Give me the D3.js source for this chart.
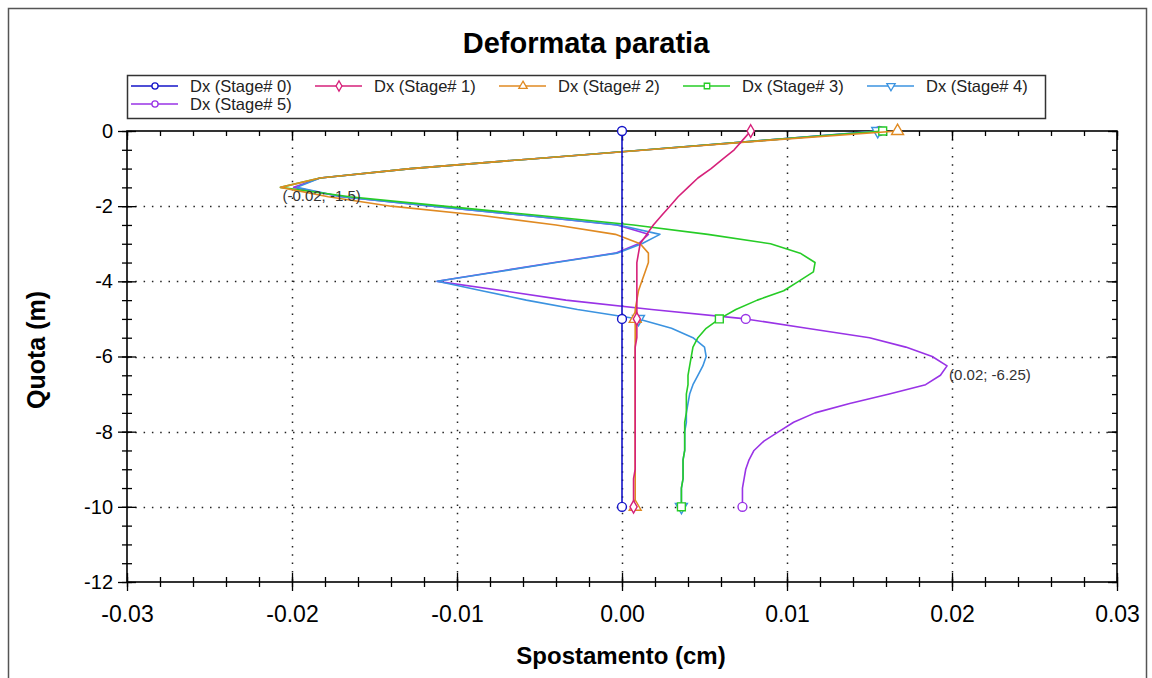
<!DOCTYPE html>
<html>
<head>
<meta charset="utf-8">
<script src="https://cdn.jsdelivr.net/npm/d3@7"></script>
<style>
  body { margin: 0; background: #fff; }
  text { font-family: Arial, "Liberation Sans", sans-serif; }
</style>
</head>
<body>
<svg id="chart" width="1152" height="678"></svg>
<script>
(function() {
  'use strict';

// depth of each reading (m), one value every 0.25 m
var depth = [0, -0.25, -0.5, -0.75, -1, -1.25, -1.5, -1.75, -2, -2.25,
  -2.5, -2.75, -3, -3.25, -3.5, -3.75, -4, -4.25, -4.5, -4.75,
  -5, -5.25, -5.5, -5.75, -6, -6.25, -6.5, -6.75, -7, -7.25,
  -7.5, -7.75, -8, -8.25, -8.5, -8.75, -9, -9.25, -9.5, -9.75,
  -10];

// displacement Dx (cm) per stage
var stage0 = [0, 0, 0, 0, 0, 0, 0, 0, 0, 0,
  0, 0, 0, 0, 0, 0, 0, 0, 0, 0,
  0, 0, 0, 0, 0, 0, 0, 0, 0, 0,
  0, 0, 0, 0, 0, 0, 0, 0, 0, 0,
  0];
var stage1 = [0.0078, 0.0073, 0.0068, 0.0061, 0.0054, 0.0046, 0.0040, 0.0034, 0.0029, 0.0024,
  0.0019, 0.0015, 0.0011, 0.0010, 0.0009, 0.0009, 0.0009, 0.0009, 0.0009, 0.0009,
  0.0009, 0.0009, 0.0009, 0.0008, 0.0008, 0.0008, 0.0008, 0.0008, 0.0008, 0.0008,
  0.0008, 0.0008, 0.0008, 0.0008, 0.0008, 0.0008, 0.0008, 0.0007, 0.0007, 0.0007,
  0.0007];
var stage2 = [0.0167, 0.0088, 0.0016, -0.0057, -0.0128, -0.0183, -0.0207, -0.0178, -0.0140, -0.0085,
  -0.0040, -0.0004, 0.0011, 0.0016, 0.0016, 0.0014, 0.0012, 0.0010, 0.0009, 0.0008,
  0.0008, 0.0008, 0.0008, 0.0008, 0.0008, 0.0008, 0.0008, 0.0008, 0.0008, 0.0008,
  0.0008, 0.0008, 0.0008, 0.0008, 0.0008, 0.0008, 0.0008, 0.0008, 0.0008, 0.0008,
  0.0008];
var stage3 = [0.0158, 0.0086, 0.0015, -0.0057, -0.0128, -0.0183, -0.0207, -0.0165, -0.0108, -0.0050,
  0.0007, 0.0052, 0.0090, 0.0108, 0.0117, 0.0116, 0.0107, 0.0098, 0.0082, 0.0069,
  0.0059, 0.0051, 0.0046, 0.0043, 0.0042, 0.0041, 0.0040, 0.0040, 0.0039, 0.0039,
  0.0039, 0.0038, 0.0038, 0.0038, 0.0038, 0.0037, 0.0037, 0.0037, 0.0036, 0.0036,
  0.0036];
var stage4 = [0.0155, 0.0086, 0.0015, -0.0057, -0.0128, -0.0183, -0.0197, -0.0170, -0.0115, -0.0058,
  -0.0002, 0.0023, 0.0012, -0.0003, -0.0040, -0.0076, -0.0112, -0.0085, -0.0058, -0.0027,
  0.0010, 0.0030, 0.0043, 0.0050, 0.0051, 0.0049, 0.0046, 0.0043, 0.0041, 0.0040,
  0.0039, 0.0039, 0.0038, 0.0038, 0.0038, 0.0037, 0.0037, 0.0037, 0.0036, 0.0036,
  0.0036];
var stage5 = [0.0156, 0.0086, 0.0015, -0.0057, -0.0128, -0.0183, -0.0199, -0.0170, -0.0115, -0.0058,
  -0.0003, 0.0016, 0.0010, -0.0004, -0.0041, -0.0077, -0.0112, -0.0072, -0.0034, 0.0018,
  0.0075, 0.0112, 0.0150, 0.0172, 0.0188, 0.0197, 0.0193, 0.0184, 0.0162, 0.0138,
  0.0117, 0.0104, 0.0095, 0.0086, 0.0080, 0.0077, 0.0075, 0.0074, 0.0073, 0.0073,
  0.0073];

var seriesNames = ['Dx (Stage# 0)', 'Dx (Stage# 1)', 'Dx (Stage# 2)', 'Dx (Stage# 3)', 'Dx (Stage# 4)', 'Dx (Stage# 5)'];
var seriesColors = ['#1414c8', '#d6217a', '#e08a22', '#26cc26', '#3b93e0', '#9933e6'];
var seriesMarkers = ['circle', 'diamond', 'triangle', 'square', 'triangleDown', 'circle'];
var markerIndex = [0, 20, 40];

var xTicks = [-0.03, -0.02, -0.01, 0, 0.01, 0.02, 0.03];
var xMinor = d3.range(-0.03, 0.0301, 0.002);
var yTicks = [0, -2, -4, -6, -8, -10, -12];
var yMinor = d3.range(0, -12.01, -0.5);

var svg = d3.select('#chart');

var left = 127, right = 1117, top = 131, bottom = 582;

var x = d3.scaleLinear().domain([-0.03, 0.03]).range([left, right]);
var y = d3.scaleLinear().domain([0, -12]).range([top, bottom]);

var series = [stage0, stage1, stage2, stage3, stage4, stage5].map(function(vals, i) {
  return {
    name: seriesNames[i],
    color: seriesColors[i],
    marker: seriesMarkers[i],
    values: vals.map(function(v, j) { return { v: v, d: depth[j] }; })
  };
});

// outer frame
svg.append('rect')
  .attr('x', 8.5).attr('y', 8.5)
  .attr('width', 1138).attr('height', 700)
  .attr('fill', 'none')
  .attr('stroke', '#555')
  .attr('stroke-width', 1.5);

// title
svg.append('text')
  .attr('x', 586).attr('y', 53)
  .attr('text-anchor', 'middle')
  .attr('font-size', 29)
  .attr('font-weight', 'bold')
  .text('Deformata paratia');

// grid
svg.append('g').selectAll('line')
  .data(xTicks.slice(1, -1))
  .enter().append('line')
    .attr('x1', function(d) { return Math.round(x(d)) + 0.5; })
    .attr('x2', function(d) { return Math.round(x(d)) + 0.5; })
    .attr('y1', top).attr('y2', bottom)
    .attr('stroke', '#222')
    .attr('stroke-width', 1.5)
    .attr('stroke-dasharray', '1.5,6.8');

svg.append('g').selectAll('line')
  .data(yTicks.slice(1, -1))
  .enter().append('line')
    .attr('y1', function(d) { return Math.round(y(d)) + 0.5; })
    .attr('y2', function(d) { return Math.round(y(d)) + 0.5; })
    .attr('x1', left).attr('x2', right)
    .attr('stroke', '#222')
    .attr('stroke-width', 1.5)
    .attr('stroke-dasharray', '1.5,6.8');

// axes: ticks crossing left and bottom lines, inward ticks on top and right
function noLabel() { return ''; }

svg.append('g')
  .attr('class', 'yaxis')
  .attr('transform', 'translate(' + (left + 9) + ',0)')
  .call(d3.axisLeft(y).tickValues(yTicks).tickSize(18).tickPadding(5)
    .tickFormat(function(d) { return d.toFixed(0); }));
svg.append('g')
  .attr('transform', 'translate(' + (left + 5) + ',0)')
  .call(d3.axisLeft(y).tickValues(yMinor).tickSize(10).tickFormat(noLabel));

svg.append('g')
  .attr('class', 'xaxis')
  .attr('transform', 'translate(0,' + (bottom - 9) + ')')
  .call(d3.axisBottom(x).tickValues(xTicks).tickSize(18).tickPadding(15)
    .tickFormat(function(d) { return d.toFixed(2); }));
svg.append('g')
  .attr('transform', 'translate(0,' + (bottom - 5) + ')')
  .call(d3.axisBottom(x).tickValues(xMinor).tickSize(10).tickFormat(noLabel));

svg.append('g')
  .attr('transform', 'translate(0,' + top + ')')
  .call(d3.axisBottom(x).tickValues(xTicks).tickSize(9).tickFormat(noLabel));
svg.append('g')
  .attr('transform', 'translate(0,' + top + ')')
  .call(d3.axisBottom(x).tickValues(xMinor).tickSize(5).tickFormat(noLabel));
svg.append('g')
  .attr('transform', 'translate(' + right + ',0)')
  .call(d3.axisLeft(y).tickValues(yTicks).tickSize(9).tickFormat(noLabel));
svg.append('g')
  .attr('transform', 'translate(' + right + ',0)')
  .call(d3.axisLeft(y).tickValues(yMinor).tickSize(5).tickFormat(noLabel));

svg.selectAll('.domain').remove();
svg.selectAll('.tick line').attr('stroke', '#000').attr('stroke-width', 1.3);
svg.selectAll('.tick text').attr('fill', '#000')
  .attr('font-family', 'Arial, "Liberation Sans", sans-serif');
svg.selectAll('.yaxis .tick text').attr('font-size', 20);
svg.selectAll('.xaxis .tick text').attr('font-size', 23);

svg.append('rect')
  .attr('x', left).attr('y', top)
  .attr('width', right - left).attr('height', bottom - top)
  .attr('fill', 'none')
  .attr('stroke', '#000')
  .attr('stroke-width', 1.6);

// axis titles
svg.append('text')
  .attr('x', 621).attr('y', 664)
  .attr('text-anchor', 'middle')
  .attr('font-size', 24)
  .attr('font-weight', 'bold')
  .text('Spostamento (cm)');

svg.append('text')
  .attr('transform', 'translate(45,350) rotate(-90)')
  .attr('text-anchor', 'middle')
  .attr('font-size', 25)
  .attr('font-weight', 'bold')
  .text('Quota (m)');

// markers
function symbolPath(kind, size) {
  var type = d3.symbolCircle;
  if (kind === 'diamond') type = d3.symbolDiamond;
  if (kind === 'triangle' || kind === 'triangleDown') type = d3.symbolTriangle;
  if (kind === 'square') type = d3.symbolSquare;
  return d3.symbol().type(type).size(size)();
}
function symbolRotate(kind) {
  return kind === 'triangleDown' ? ' rotate(180)' : '';
}

var line = d3.line()
  .x(function(d) { return x(d.v); })
  .y(function(d) { return y(d.d); });

var plot = svg.append('g');

// last stage first, so earlier stages lie on top where lines coincide
series.slice().reverse().forEach(function(s) {
  plot.append('path')
    .datum(s.values)
    .attr('d', line)
    .attr('fill', 'none')
    .attr('stroke', s.color)
    .attr('stroke-width', 1.6)
    .attr('stroke-linejoin', 'round');

  plot.append('g').selectAll('path')
    .data(markerIndex.map(function(i) { return s.values[i]; }))
    .enter().append('path')
      .attr('transform', function(d) {
        return 'translate(' + x(d.v) + ',' + y(d.d) + ')' + symbolRotate(s.marker);
      })
      .attr('d', symbolPath(s.marker, s.marker === 'diamond' ? 45 : 62))
      .attr('fill', '#fff')
      .attr('stroke', s.color)
      .attr('stroke-width', 1.4);
});

// labels on the extreme points
var allPoints = [];
series.forEach(function(s) { allPoints = allPoints.concat(s.values); });
var minPt = allPoints.reduce(function(a, b) { return b.v < a.v ? b : a; });
var maxPt = allPoints.reduce(function(a, b) { return b.v > a.v ? b : a; });

[minPt, maxPt].forEach(function(p) {
  svg.append('text')
    .attr('x', x(p.v) + 2)
    .attr('y', y(p.d) + 14)
    .attr('font-size', 15)
    .attr('fill', '#333')
    .text('(' + p.v.toFixed(2) + '; ' + p.d + ')');
});

// legend
var legend = svg.append('g');
legend.append('rect')
  .attr('x', 127.5).attr('y', 75.5)
  .attr('width', 918).attr('height', 43)
  .attr('fill', '#fff')
  .attr('stroke', '#333')
  .attr('stroke-width', 1.5);

var item = legend.selectAll('g.item')
  .data(series)
  .enter().append('g')
    .attr('class', 'item')
    .attr('transform', function(d, i) {
      return 'translate(' + (131 + (i % 5) * 184) + ',' + (86 + Math.floor(i / 5) * 18) + ')';
    });

item.append('line')
  .attr('x1', 0).attr('x2', 47)
  .attr('stroke', function(d) { return d.color; })
  .attr('stroke-width', 1.6);

item.append('path')
  .attr('transform', function(d) { return 'translate(24,0)' + symbolRotate(d.marker); })
  .attr('d', function(d) { return symbolPath(d.marker, 30); })
  .attr('fill', '#fff')
  .attr('stroke', function(d) { return d.color; })
  .attr('stroke-width', 1.3);

item.append('text')
  .attr('x', 59)
  .attr('dy', '0.35em')
  .attr('font-size', 16.5)
  .attr('fill', '#222')
  .text(function(d) { return d.name; });

}());
</script>
</body>
</html>
